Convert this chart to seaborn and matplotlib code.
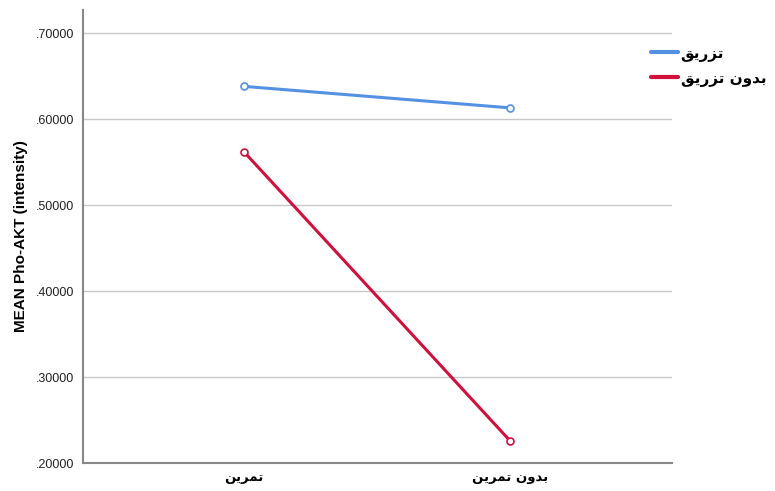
import pandas as pd
import matplotlib.pyplot as plt
import seaborn as sns
from matplotlib.lines import Line2D

# Arabic labels written in presentation forms (visual order) since matplotlib does no shaping
x_labels = ["\uFEE6\uFEF3\uFEAE\uFEE4\uFE97",                      # تمرين
            "\uFEE6\uFEF3\uFEAE\uFEE4\uFE97 \uFEE5\uFEED\uFEAA\uFE91"]  # بدون تمرين
groups = ["\uFED6\uFEF3\uFEAD\uFEB0\uFE97",                        # تزريق
          "\uFED6\uFEF3\uFEAD\uFEB0\uFE97 \uFEE5\uFEED\uFEAA\uFE91"]    # بدون تزريق
vals_inj = [0.638, 0.613]
vals_no_inj = [0.562, 0.226]
colors = ["#5591E3", "#D2103C"]
y_ticks = [0.2, 0.3, 0.4, 0.5, 0.6, 0.7]

df = pd.DataFrame({
    "x": x_labels + x_labels,
    "grp": [groups[0]] * 2 + [groups[1]] * 2,
    "y": vals_inj + vals_no_inj,
})

sns.set_style("white")
plt.rcParams['font.family'] = ['Liberation Sans', 'DejaVu Sans']
plt.rcParams['text.color'] = 'black'

fig = plt.figure(figsize=(7.75, 4.91), dpi=100)
ax = fig.add_axes([0.107, 0.057, 0.76, 0.923])

sns.lineplot(data=df, x="x", y="y", hue="grp", palette=colors, lw=2.2,
             marker="o", markersize=5, legend=False, ax=ax)
for ln in ax.lines:
    ln.set_markerfacecolor("white")
    ln.set_markeredgecolor(ln.get_color())
    ln.set_markeredgewidth(1.2)

ax.set_xlim(-0.605, 1.609)
ax.set_ylim(0.2, 0.727)
ax.set_yticks(y_ticks)
ax.set_yticklabels([f"{v:.5f}".lstrip("0") for v in y_ticks], fontsize=9, color="#222222")
ax.set_xticks([0, 1])
ax.set_xticklabels(x_labels, fontsize=9.5, fontweight="bold", color="black",
                   family=['DejaVu Sans'])
ax.tick_params(length=0, pad=6)
ax.grid(axis="y", color="#c8c8c8", lw=1)
ax.set_axisbelow(True)
for s in ["top", "right"]:
    ax.spines[s].set_visible(False)
for s in ["left", "bottom"]:
    ax.spines[s].set_color("#888888")
    ax.spines[s].set_linewidth(1.5)
ax.set_xlabel("")
ax.set_ylabel("MEAN Pho-AKT (intensity)", fontsize=11, fontweight="bold",
              color="black", labelpad=6)

handles = [Line2D([], [], color=c, lw=3) for c in colors]
fig.legend(handles, groups, loc="upper left", bbox_to_anchor=(0.822, 0.935),
           frameon=False, handlelength=1.8, handletextpad=0.15, labelspacing=0.6,
           prop={'family': 'DejaVu Sans', 'weight': 'bold', 'size': 11})

fig.savefig("out.png", dpi=100)
